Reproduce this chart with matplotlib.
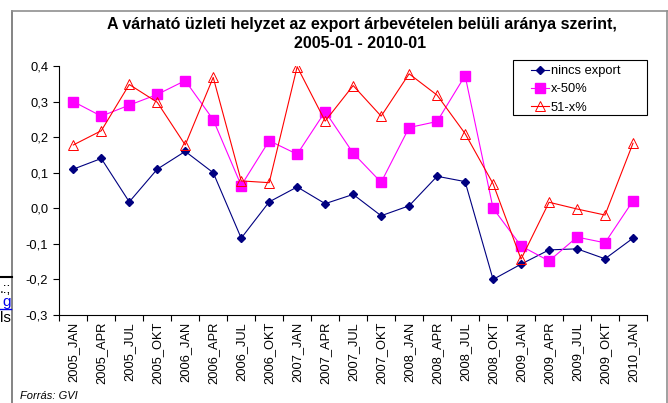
import numpy as np
import matplotlib
matplotlib.use("Agg")
import matplotlib.pyplot as plt
from matplotlib.lines import Line2D
from matplotlib.patches import Rectangle

plt.rc('font', family=['Liberation Sans', 'DejaVu Sans'])

# data
categories = ["2005_JAN", "2005_APR", "2005_JUL", "2005_OKT",
              "2006_JAN", "2006_APR", "2006_JUL", "2006_OKT",
              "2007_JAN", "2007_APR", "2007_JUL", "2007_OKT",
              "2008_JAN", "2008_APR", "2008_JUL", "2008_OKT",
              "2009_JAN", "2009_APR", "2009_JUL", "2009_OKT",
              "2010_JAN"]
nincs_export = [0.11, 0.14, 0.018, 0.11, 0.16, 0.10, -0.084, 0.018, 0.06, 0.013,
                0.039, -0.021, 0.007, 0.09, 0.075, -0.20, -0.157, -0.117, -0.114,
                -0.142, -0.084]
x_50 = [0.30, 0.259, 0.29, 0.32, 0.359, 0.249, 0.064, 0.19, 0.152, 0.272,
        0.155, 0.073, 0.227, 0.244, 0.373, 0.0, -0.106, -0.148, -0.081, -0.097,
        0.021]
x51 = [0.178, 0.218, 0.348, 0.298, 0.178, 0.368, 0.077, 0.072, 0.398, 0.245,
       0.345, 0.259, 0.378, 0.318, 0.21, 0.069, -0.143, 0.017, -0.002, -0.019,
       0.183]
yticks = [-0.3, -0.2, -0.1, 0.0, 0.1, 0.2, 0.3, 0.4]

W, H, DPI = 668.0, 403.0, 100.0
fig = plt.figure(figsize=(W / DPI, H / DPI), dpi=DPI)
ax = fig.add_axes([59.3 / W, 1 - 315 / H, (647 - 59.3) / W, (315 - 66) / H])

x = np.arange(len(categories))
ax.plot(x, nincs_export, color='#000080', lw=0.8, marker='D', ms=4.5,
        label='nincs export')
ax.plot(x, x_50, color='#FF00FF', lw=0.8, marker='s', ms=6.5,
        label='x-50%')
ax.plot(x, x51, color='#FF0000', lw=0.8, marker='^', ms=6.5,
        mfc='none', mec='#FF0000', mew=0.7, label='51-x%')

ax.set_xlim(-0.5, len(categories) - 0.5)
ax.set_ylim(-0.3, 0.4)
ax.set_yticks(yticks)
ax.set_yticklabels([("%.1f" % v).replace('.', ',') for v in yticks], fontsize=9.25)
ax.set_xticks(x)
ax.set_xticklabels(categories, rotation=90, fontsize=9.25)
ax.set_xticks(np.arange(-0.5, len(categories)), minor=True)
ax.tick_params(axis='x', which='major', length=0, pad=5)
ax.tick_params(axis='x', which='minor', length=4, width=0.8, direction='out')
ax.tick_params(axis='y', length=4, width=0.8, direction='out', pad=4)
for s in ['top', 'right']:
    ax.spines[s].set_visible(False)
for s in ['left', 'bottom']:
    ax.spines[s].set_linewidth(0.8)

# legend with its own frame
fig.add_artist(Rectangle((513 / W, 1 - 115 / H), (647 - 513) / W, (115 - 60) / H,
                         transform=fig.transFigure, fill=False, edgecolor='black', lw=0.8))
leg = fig.legend(loc='upper left', bbox_to_anchor=(531 / W, 1 - 65 / H),
                 fontsize=9.25, frameon=False, handlelength=1.4, handletextpad=0.15,
                 borderpad=0, labelspacing=0.5, borderaxespad=0)

fig.text(362 / W, 1 - 25 / H, "A várható üzleti helyzet az export árbevételen belüli aránya szerint,",
         ha='center', va='center', fontsize=11.5, fontweight='bold')
fig.text(360 / W, 1 - 43.5 / H, "2005-01 - 2010-01",
         ha='center', va='center', fontsize=11.5, fontweight='bold')

# outer frame
fig.add_artist(Line2D([12 / W, 12 / W], [0, 1 - 11 / H], transform=fig.transFigure,
                      color='#707070', lw=1.2))
fig.add_artist(Line2D([12 / W, 1], [1 - 11 / H, 1 - 11 / H], transform=fig.transFigure,
                      color='#909090', lw=1.2))
fig.add_artist(Line2D([666.5 / W, 666.5 / W], [0, 1 - 11 / H], transform=fig.transFigure,
                      color='#909090', lw=1.2))

# page fragments behind the chart
fig.add_artist(Line2D([0, 12 / W], [1 - 277 / H, 1 - 277 / H], transform=fig.transFigure,
                      color='black', lw=1.5))
fig.text(11 / W, 1 - 289 / H, ".:;", ha='right', va='center', fontsize=10)
fig.text(11 / W, 1 - 302 / H, "g", ha='right', va='center', fontsize=11,
         color='#0000EE')
fig.add_artist(Line2D([0, 11 / W], [1 - 309 / H, 1 - 309 / H], transform=fig.transFigure,
                      color='#0000EE', lw=1))
fig.text(11 / W, 1 - 318 / H, "ls", ha='right', va='center', fontsize=11)

fig.text(20 / W, 1 - 396 / H, "Forrás: GVI", ha='left', va='center', fontsize=8,
         style='italic')

fig.savefig("out.png", dpi=DPI)
